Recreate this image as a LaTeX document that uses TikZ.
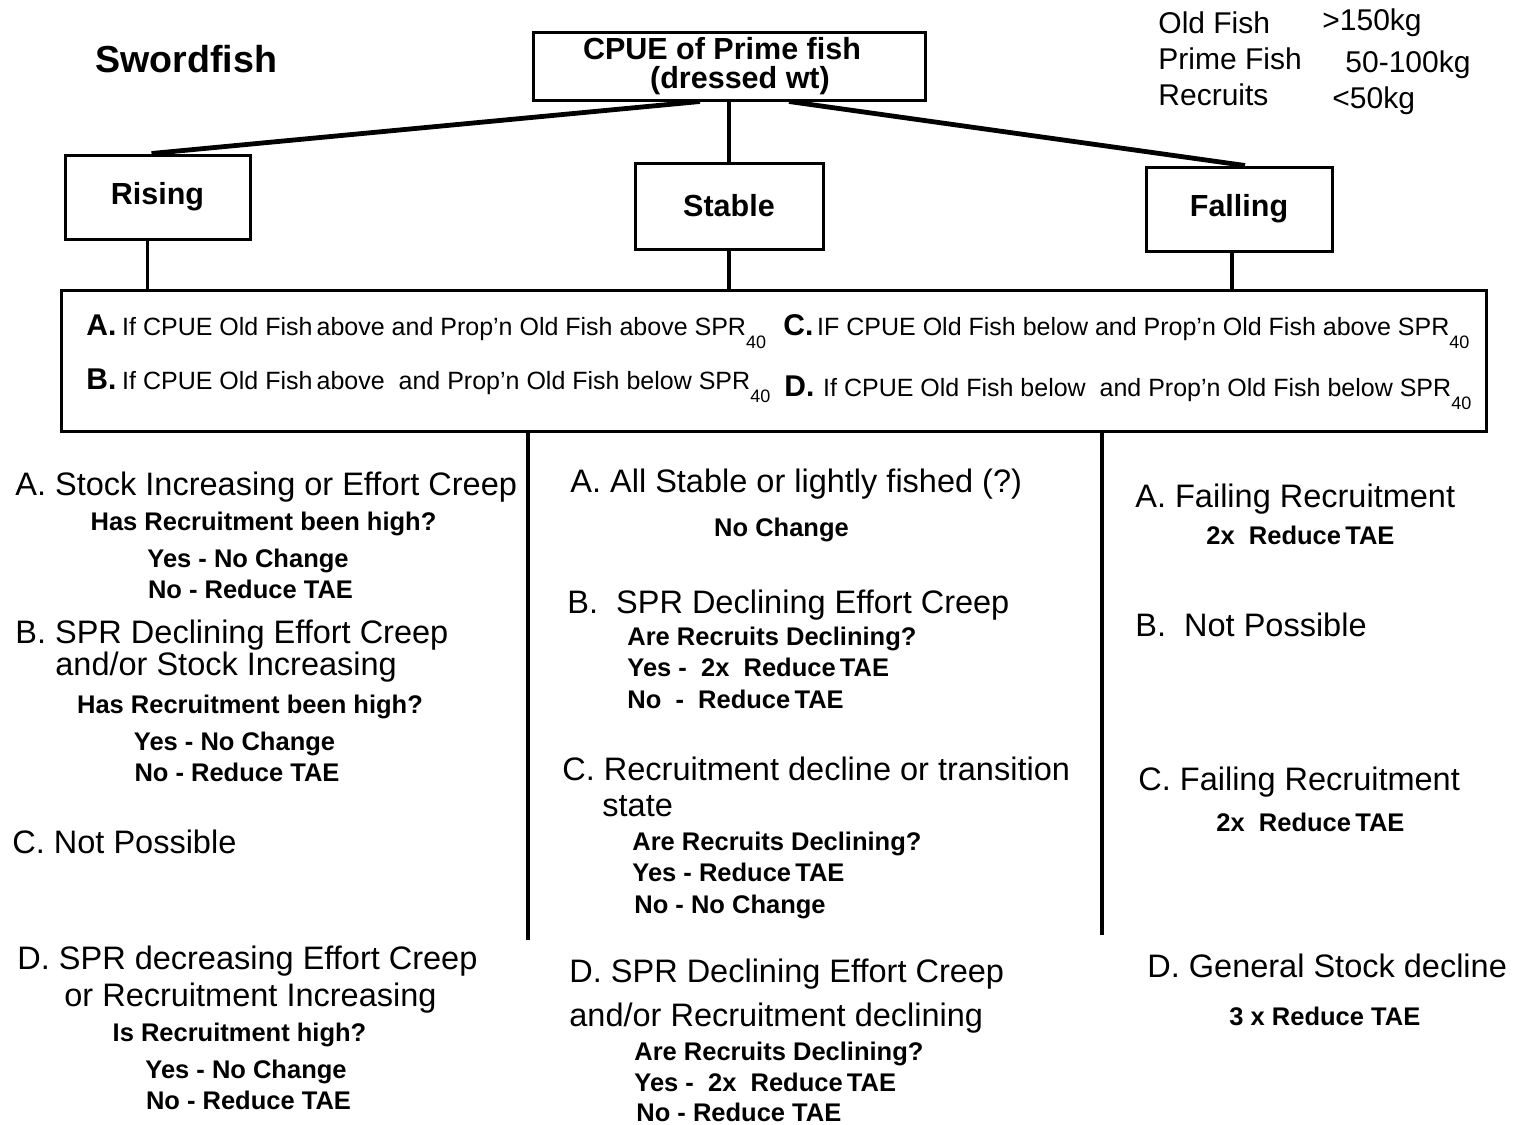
\documentclass[tikz,border=0pt]{standalone}
\usepackage{fontspec}
\setmainfont{Liberation Sans}
\usetikzlibrary{calc, positioning}
\def\stagew{92.5pt}
\def\stageh{42pt}
\newcommand\sprforty{SPR\raisebox{-6.5pt}{\fontsize{9}{9}\selectfont 40}}
\tikzset{
    stage/.style = {
        draw, rectangle, line width=1.5pt, minimum width=\stagew, minimum height=\stageh, inner sep=0pt, align=center,
        font=\bfseries\fontsize{15.25}{14.5}\selectfont
    },
    head/.style = {anchor=base west, inner sep=0pt, font=\fontsize{16.25}{19}\selectfont},
    ask/.style = {anchor=base west, inner sep=0pt, font=\bfseries\fontsize{12.75}{15}\selectfont},
    askmid/.style = {ask, anchor=base},
    crit/.style = {anchor=base west, inner sep=0pt, font=\fontsize{12.5}{15}\selectfont},
    critletter/.style = {anchor=base west, inner sep=0pt, font=\bfseries\fontsize{15}{18}\selectfont},
    key/.style = {anchor=base west, inner sep=0pt, font=\fontsize{15}{18}\selectfont},
    branch/.style = {line width=2.4pt},
    stem/.style = {line width=1.7pt},
}

\begin{document}
\begin{tikzpicture}[x=0.5pt, y=-0.5pt]
        \useasboundingbox (0,0) rectangle (1519,1124);
        % Title and size key
        \node[anchor=base west, inner sep=0pt, font=\bfseries\fontsize{18.8}{22}\selectfont] (title) at (95,72) {Swordfish};
        \foreach \name/\wt/\ny/\wx/\wy [count=\k] in {Old Fish/>150kg/33/1322/31, Prime Fish/50-100kg/69/1345/72, Recruits/<50kg/105/1332/108}{
            \node[key] (key\k) at (1158,\ny) {\name};
            \node[key] (wt\k) at (\wx,\wy) {\wt};
        }

        % Place the blocks
        \node[stage, minimum width=196pt, minimum height=34pt] (cpue) at (729,66) {CPUE of Prime fish\hspace*{7pt}\\\hspace*{11pt}(dressed wt)};
        \node[stage] (rising) at (157.5,197) {Rising};
        \node[stage, minimum width=94pt, minimum height=43pt] (stable) at (729,206) {Stable};
        \node[stage, minimum width=93pt] (falling) at (1239,209) {Falling};
        \node[draw, line width=1.5pt, minimum width=712.5pt, minimum height=70.5pt, inner sep=0pt] (crit) at (773.5,360.5) {};

        % Criteria inside the box
        \node[critletter] (ca) at (86,335) {A.};
        \node[crit] (cat) at ([xshift=2.5pt] ca.base east) {If CPUE Old Fish\,above and Prop'n Old Fish above \sprforty};
        \node[critletter] (cb) at (86,389) {B.};
        \node[crit] (cbt) at ([xshift=2.5pt] cb.base east) {If CPUE Old Fish\,above~ and Prop'n Old Fish below \sprforty};
        \node[critletter] (cc) at (783,335) {C.};
        \node[crit] (cct) at ([xshift=1.5pt] cc.base east) {IF CPUE Old Fish below and Prop'n Old Fish above \sprforty};
        \node[critletter] (cd) at (784,396) {D.};
        \node[crit] (cdt) at ([xshift=4pt] cd.base east) {If CPUE Old Fish below~ and Prop'n Old Fish below \sprforty};

        % Draw connections
        \draw[branch] ([xshift=-14.5pt] cpue.south) -- ([xshift=-3pt] rising.north);
        \draw[stem] (cpue.south) -- (stable.north);
        \draw[branch] ([xshift=30pt] cpue.south) -- ([xshift=3pt] falling.north);
        \foreach \b/\s in {rising/-5pt, stable/0pt, falling/-3.5pt}{
            \draw[stem] ([xshift=\s] \b.south) -- ([xshift=\s] \b.south |- crit.north);
        }
        \coordinate (divA) at (528,940);
        \coordinate (divB) at (1102,935);
        \draw[stem] (crit.south -| divA) -- (divA);
        \draw[stem] (crit.south -| divB) -- (divB);

        % Rising column
        \node[head] (riseA) at (15,495) {A. Stock Increasing or Effort Creep};
        \node[askmid] (riseAq) at (263.5,530) {Has Recruitment been high?};
        \node[askmid] (riseAy) at (248,567) {Yes - No Change};
        \node[askmid] (riseAn) at (250.5,598) {No - Reduce TAE};
        \node[head] (riseB) at (15,643) {B. SPR Declining Effort Creep};
        \node[head] (riseB2) at (55,675) {and/or Stock Increasing};
        \node[askmid] (riseBq) at (250,713) {Has Recruitment been high?};
        \node[askmid] (riseBy) at (234.5,750) {Yes - No Change};
        \node[askmid] (riseBn) at (237,781) {No - Reduce TAE};
        \node[head] (riseC) at (12,853) {C. Not Possible};
        \node[head] (riseD) at (17,969) {D. SPR decreasing Effort Creep};
        \node[head] (riseD2) at (64,1006) {or Recruitment Increasing};
        \node[askmid] (riseDq) at (239.5,1041) {Is Recruitment high?};
        \node[askmid] (riseDy) at (246,1078) {Yes - No Change};
        \node[askmid] (riseDn) at (248.5,1109) {No - Reduce TAE};

        % Stable column
        \node[head] (stabA) at (570,492) {A. All Stable or lightly fished (?)};
        \node[askmid] (stabAn) at (781.5,536) {No Change};
        \node[head] (stabB) at (567,613) {B.~~SPR Declining Effort Creep};
        \node[ask] (stabBq) at (627,645) {Are Recruits Declining?};
        \node[ask] (stabBy) at (627,676) {Yes -~~2x~~Reduce\,TAE};
        \node[ask] (stabBn) at (627,708) {No~~-~~Reduce\,TAE};
        \node[head] (stabC) at (562,780) {C. Recruitment decline or transition};
        \node[head] (stabC2) at (602,816) {state};
        \node[ask] (stabCq) at (632,850) {Are Recruits Declining?};
        \node[ask] (stabCy) at (632,881) {Yes - Reduce\,TAE};
        \node[ask] (stabCn) at (634,913) {No - No Change};
        \node[head] (stabD) at (569,982) {D. SPR Declining Effort Creep};
        \node[head] (stabD2) at (569,1026) {and/or Recruitment declining};
        \node[ask] (stabDq) at (634,1060) {Are Recruits Declining?};
        \node[ask] (stabDy) at (634,1091) {Yes -~~2x~~Reduce\,TAE};
        \node[ask] (stabDn) at (636,1121) {No - Reduce TAE};

        % Falling column
        \node[head] (fallA) at (1135,507) {A. Failing Recruitment};
        \node[ask] (fallAr) at (1206,544) {2x~~Reduce\,TAE};
        \node[head] (fallB) at (1135,636) {B.~~Not Possible};
        \node[head] (fallC) at (1138,790) {C. Failing Recruitment};
        \node[ask] (fallCr) at (1216,831) {2x~~Reduce\,TAE};
        \node[head] (fallD) at (1147,977) {D. General Stock decline};
        \node[ask] (fallDr) at (1229,1025) {3 x Reduce TAE};
\end{tikzpicture}
\end{document}
